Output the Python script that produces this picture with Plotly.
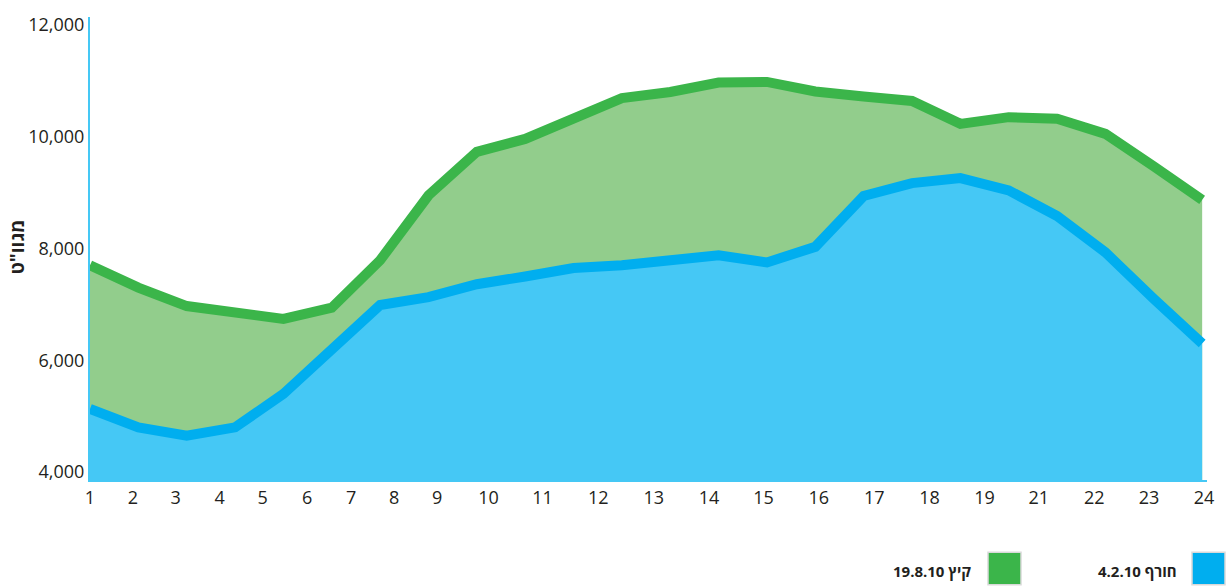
import plotly.graph_objects as go

# ---- data ----
hours_index = list(range(24))
tick_labels = ["1", "2", "3", "4", "5", "6", "7", "8", "9", "10", "11", "12",
               "13", "14", "15", "16", "17", "18", "19", "21", "22", "23", "24"]
summer_values = [7700, 7300, 6970, 6870, 6740, 6940, 7790, 8950, 9730, 9960,
                 10340, 10690, 10800, 10970, 10980, 10810, 10720, 10640,
                 10230, 10350, 10320, 10050, 9470, 8870]
winter_values = [5130, 4800, 4650, 4800, 5400, 6210, 6990, 7130, 7360, 7500,
                 7650, 7700, 7790, 7880, 7750, 8030, 8940, 9170, 9260, 9040,
                 8580, 7930, 7100, 6300]
y_ticks = [4000, 6000, 8000, 10000, 12000]
summer_name = "19.8.10 קיץ"
winter_name = "4.2.10 חורף"
y_title = "מגוו\"ט"

# ---- layout constants ----
tick_positions = [0, 0.887, 1.77, 2.68, 3.57, 4.49, 5.40, 6.29, 7.18, 8.24, 9.36,
                  10.51, 11.66, 12.80, 13.93, 15.07, 16.22, 17.36, 18.50,
                  19.62, 20.77, 21.90, 23.04]

GREEN_LINE = "#3BB54A"
GREEN_FILL = "#92CD8C"
BLUE_LINE = "#00AEEF"
BLUE_FILL = "#45C8F5"
TEXT = "#231F20"

L, R, T, B = 90, 21, 12, 107
W, H = 1228, 587
PW, PH = W - L - R, H - T - B


def px(x):
    return (x - L) / PW


def py(y):
    return (H - B - y) / PH


fig = go.Figure()
fig.add_trace(go.Scatter(x=hours_index, y=summer_values, mode="lines",
                         fill="tozeroy", fillcolor=GREEN_FILL,
                         line=dict(color=GREEN_LINE, width=10),
                         name=summer_name, hoverinfo="skip"))
fig.add_trace(go.Scatter(x=hours_index, y=winter_values, mode="lines",
                         fill="tozeroy", fillcolor=BLUE_FILL,
                         line=dict(color=BLUE_LINE, width=10),
                         name=winter_name, hoverinfo="skip"))

fig.update_layout(
    width=W, height=H,
    margin=dict(l=L, r=R, t=T, b=B),
    paper_bgcolor="white", plot_bgcolor="white",
    showlegend=False,
    font=dict(family="Open Sans, DejaVu Sans, sans-serif", color=TEXT, size=18),
    xaxis=dict(range=[0, 23.1], tickmode="array", tickvals=tick_positions,
               ticktext=tick_labels, showgrid=False, zeroline=False,
               showline=True, linecolor=BLUE_FILL, linewidth=2,
               ticks="", tickfont=dict(size=18, color=TEXT)),
    yaxis=dict(range=[3858, 12142], tickmode="array", tickvals=y_ticks,
               tickformat=",d", showgrid=False, zeroline=False,
               showline=True, linecolor=BLUE_FILL, linewidth=2,
               ticks="", tickfont=dict(size=18, color=TEXT)),
)

# y-axis title
fig.add_annotation(xref="paper", yref="paper", x=px(17), y=py(245),
                   text=f"<b>{y_title}</b>", textangle=-90, showarrow=False,
                   xanchor="center", yanchor="middle",
                   font=dict(size=19, color=TEXT))

# custom legend (RTL style: swatch on the right of the text)
legend_items = [(winter_name, BLUE_LINE, 1192, 1179), (summer_name, GREEN_LINE, 988, 973)]
for name, color, sq_left, text_right in legend_items:
    fig.add_shape(type="rect", xref="paper", yref="paper",
                  x0=px(sq_left), x1=px(sq_left + 33), y0=py(553), y1=py(586),
                  fillcolor=color, line=dict(color="#D9D9D9", width=1.5))
    fig.add_annotation(xref="paper", yref="paper", x=px(text_right), y=py(572),
                       text=f"<b>{name}</b>", showarrow=False,
                       xanchor="right", yanchor="middle",
                       font=dict(size=15, color=TEXT))

fig.write_html("out.html",
               config={"displayModeBar": False},
               post_script="document.body.style.margin='0';document.body.style.overflow='hidden';")
